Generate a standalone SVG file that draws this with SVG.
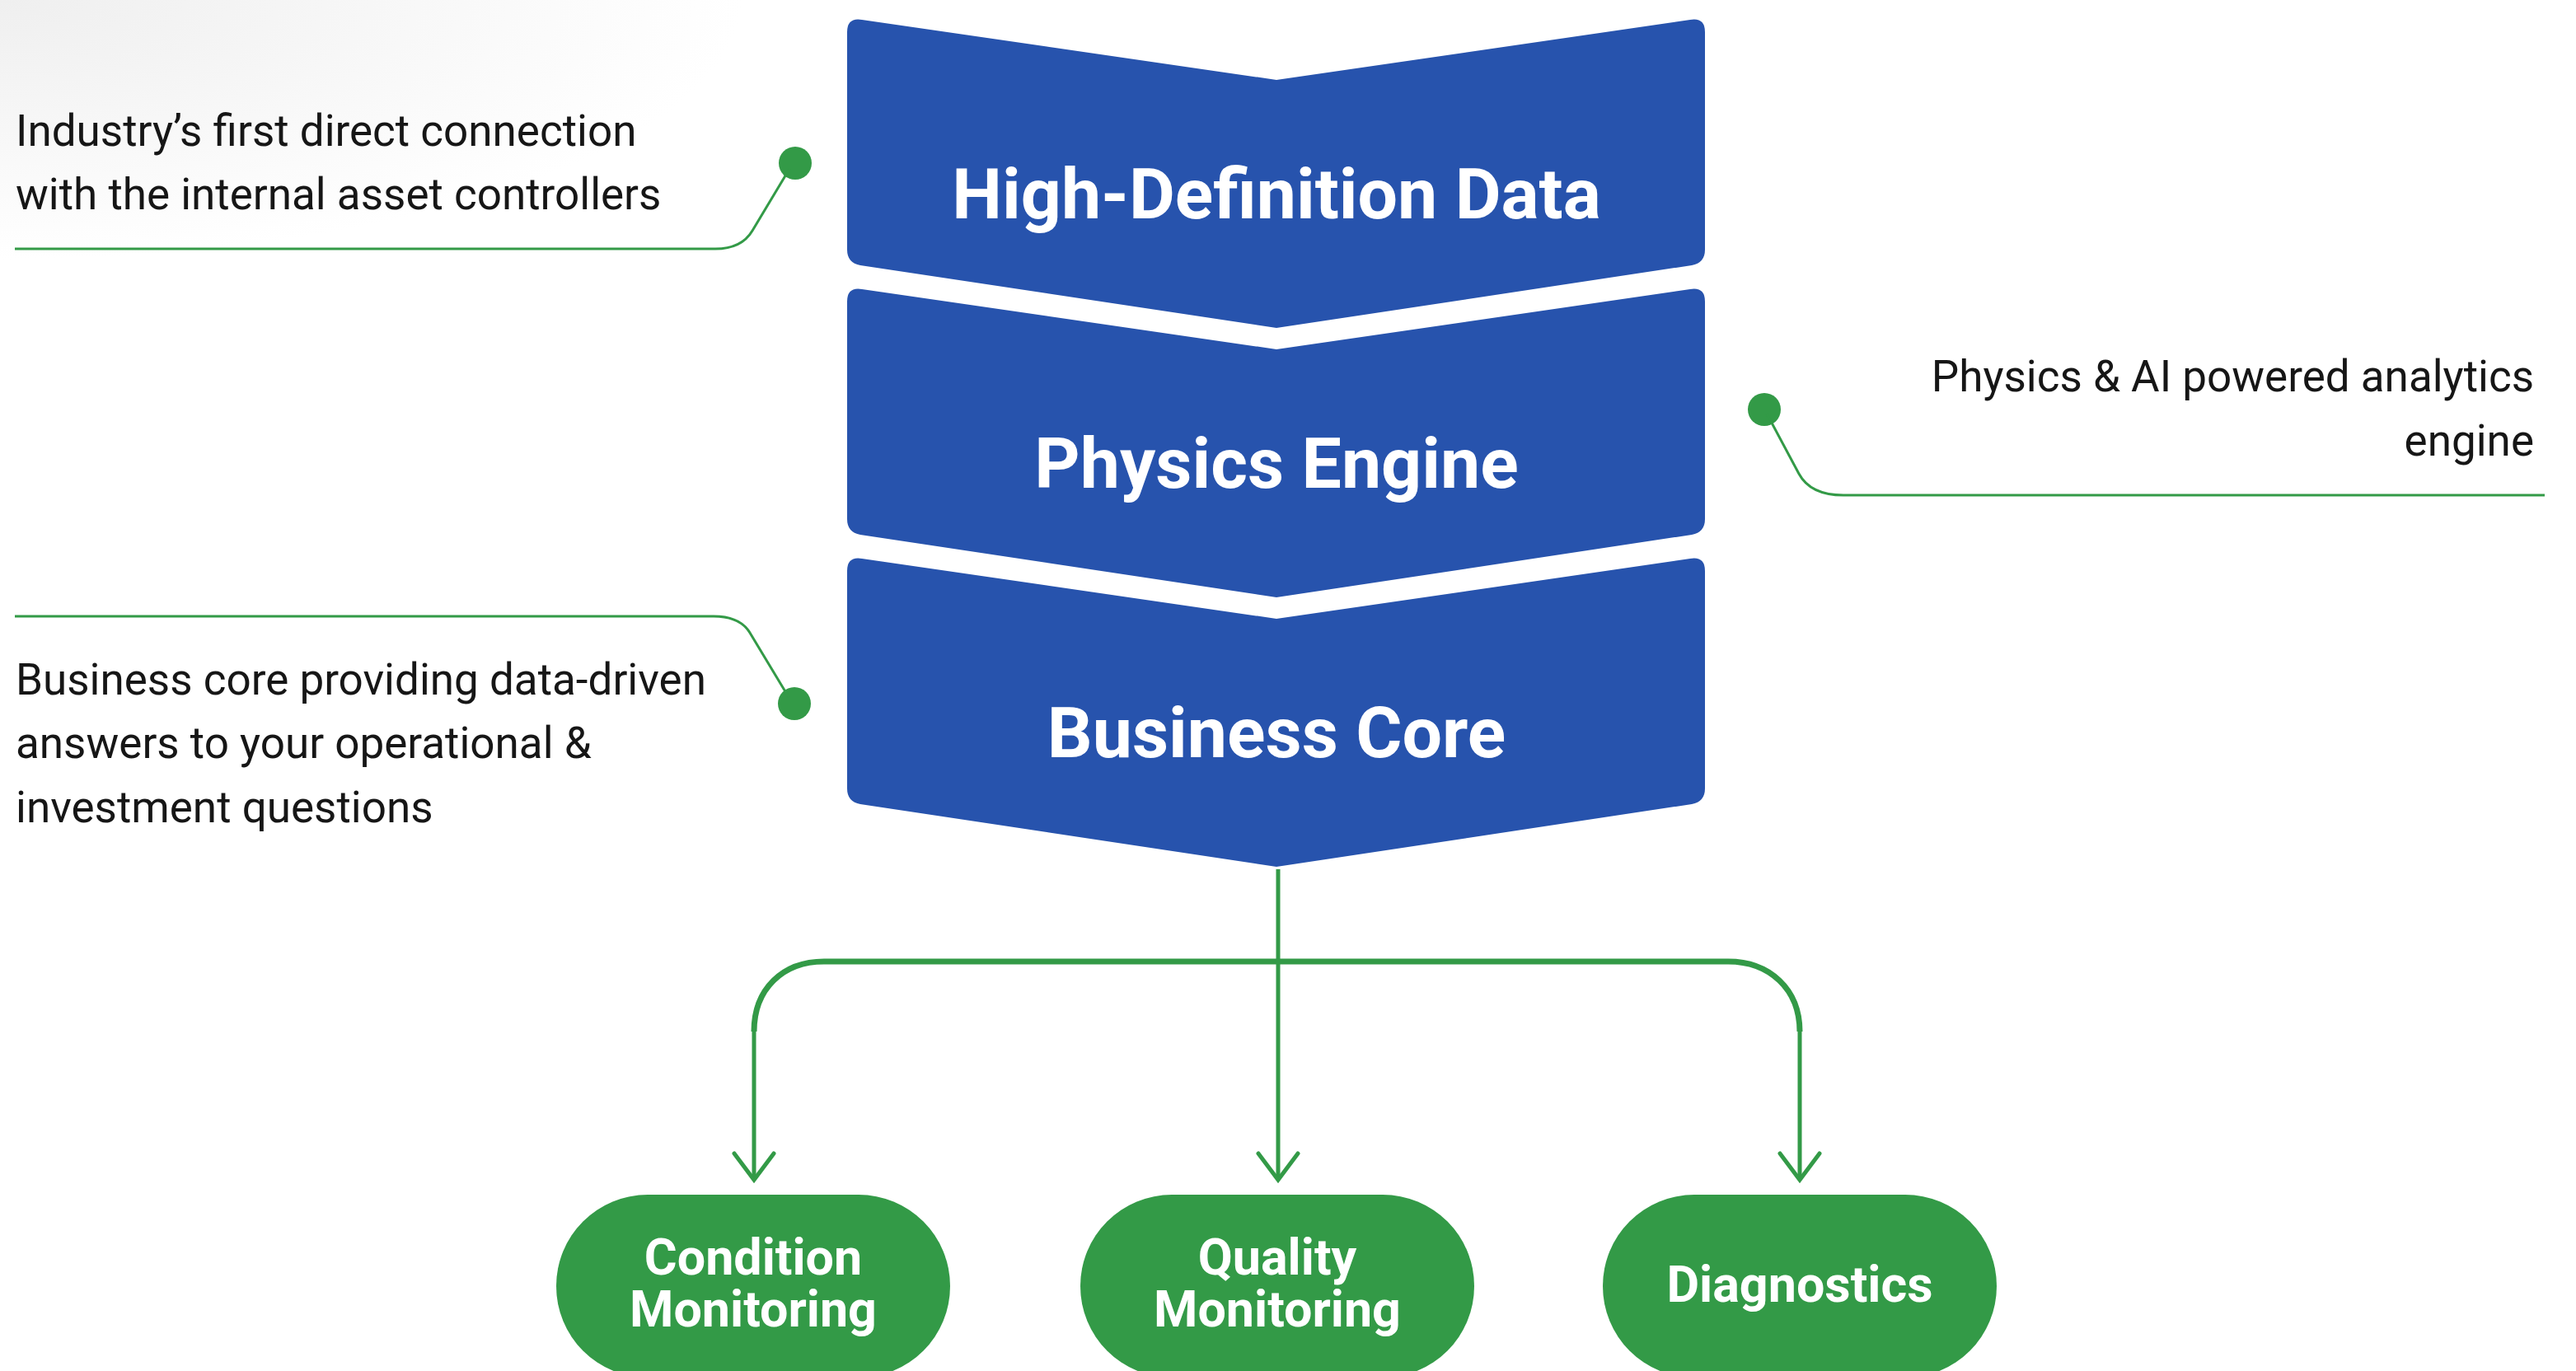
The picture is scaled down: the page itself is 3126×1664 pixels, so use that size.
<svg xmlns="http://www.w3.org/2000/svg" xmlns:xlink="http://www.w3.org/1999/xlink" width="3126" height="1664" viewBox="0 0 3126 1664">
<style>
.chev{fill:#2753ad}
.htxt{font-family:Roboto,"Liberation Sans",sans-serif;font-weight:700;font-size:86px;fill:#ffffff;text-anchor:middle}
.note{font-family:Roboto,"Liberation Sans",sans-serif;font-size:53px;fill:#161616}
.pill{fill:#339a47}
.ptxt{font-family:Roboto,"Liberation Sans",sans-serif;font-weight:700;font-size:61px;fill:#ffffff;text-anchor:middle}
.lead{fill:none;stroke:#339a47;stroke-width:3}
.dot{fill:#339a47}
.flow{fill:none;stroke:#339a47;stroke-width:5}
</style>
<defs>
<radialGradient id="bg" cx="0" cy="0" r="900" gradientUnits="userSpaceOnUse" gradientTransform="scale(1 0.35)">
<stop offset="0" stop-color="#efefef"/>
<stop offset="1" stop-color="#ffffff"/>
</radialGradient>
<path id="chevShape" d="M1028 39 Q1028 21 1046 24 L1549 97 L2051 24 Q2069 21 2069 39 L2069 303 Q2069 319 2053 322 L1549 398 L1044 322 Q1028 319 1028 303 Z"/>
<marker id="arr" viewBox="-40 -30 50 60" markerWidth="50" markerHeight="60" refX="0" refY="0" orient="auto" markerUnits="userSpaceOnUse">
<path d="M-32 -24 L0 0 L-32 24" fill="none" stroke="#339a47" stroke-width="5" stroke-linecap="round" stroke-linejoin="miter"/>
</marker>
</defs>
<rect width="3126" height="1664" fill="#ffffff"/>
<rect width="1000" height="400" fill="url(#bg)"/>

<g id="node-high-definition-data">
<use xlink:href="#chevShape" class="chev"/>
<text class="htxt" x="1549" y="265">High-Definition Data</text>
</g>
<g id="node-physics-engine">
<use xlink:href="#chevShape" class="chev" y="327"/>
<text class="htxt" x="1549" y="592">Physics Engine</text>
</g>
<g id="node-business-core">
<use xlink:href="#chevShape" class="chev" y="654"/>
<text class="htxt" x="1549" y="919">Business Core</text>
</g>

<g id="note-industry">
<circle class="dot" cx="965" cy="198" r="20"/>
<text class="note" x="19" y="177">Industry’s first direct connection</text>
<text class="note" x="19" y="254">with the internal asset controllers</text>
</g>
<g id="note-physics">
<circle class="dot" cx="2141" cy="497" r="20"/>
<text class="note" x="3075" y="475" text-anchor="end">Physics &amp; AI powered analytics</text>
<text class="note" x="3075" y="553" text-anchor="end">engine</text>
</g>
<g id="note-business">
<circle class="dot" cx="964" cy="854" r="20"/>
<text class="note" x="19" y="843">Business core providing data-driven</text>
<text class="note" x="19" y="920">answers to your operational &amp;</text>
<text class="note" x="19" y="998">investment questions</text>
</g>

<g id="node-condition-monitoring">
<rect class="pill" x="675" y="1450" width="478" height="222" rx="111" ry="111"/>
<text class="ptxt" x="914" y="1547">Condition</text>
<text class="ptxt" x="914" y="1610">Monitoring</text>
</g>
<g id="node-quality-monitoring">
<rect class="pill" x="1311" y="1450" width="478" height="222" rx="111" ry="111"/>
<text class="ptxt" x="1550" y="1547">Quality</text>
<text class="ptxt" x="1550" y="1610">Monitoring</text>
</g>
<g id="node-diagnostics">
<rect class="pill" x="1945" y="1450" width="478" height="222" rx="111" ry="111"/>
<text class="ptxt" x="2184" y="1580">Diagnostics</text>
</g>

<g id="connectors">
<path class="lead" d="M18 302 H868 Q900 302 913 280 L958 205"/>
<path class="lead" d="M2144 502 L2183 575 Q2197 601 2237 601 H3088"/>
<path class="lead" d="M18 748 H866 Q898 748 910 768 L957 846"/>
<path class="flow" d="M1551 1055 V1432" marker-end="url(#arr)"/>
<path class="flow" style="stroke-width:7" d="M1551 1167 H1000 C950 1167 915 1200 915 1252"/>
<path class="flow" style="stroke-width:7" d="M1551 1167 H2097 C2147 1167 2184 1200 2184 1252"/>
<path class="flow" d="M915 1250 V1432" marker-end="url(#arr)"/>
<path class="flow" d="M2184 1250 V1432" marker-end="url(#arr)"/>
</g>
</svg>
